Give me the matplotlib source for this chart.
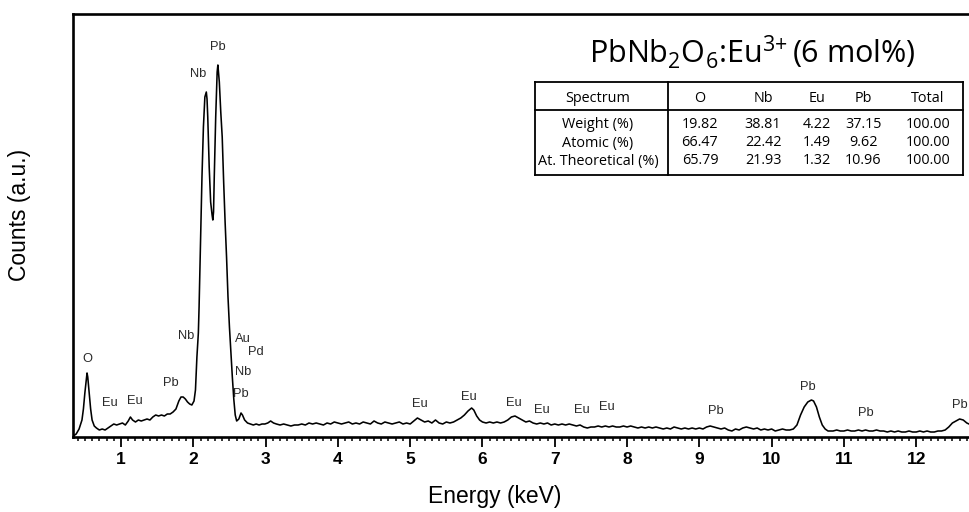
import matplotlib
matplotlib.use("Agg")
import matplotlib.pyplot as plt
from matplotlib.ticker import MultipleLocator
from matplotlib.lines import Line2D

# ---------------- data ----------------
energy_kev = [
    0.34, 0.38, 0.42, 0.46, 0.48, 0.50, 0.52, 0.53, 0.54, 0.56, 0.58, 0.60, 0.63, 0.66,
    0.70, 0.74, 0.78, 0.82, 0.86, 0.90, 0.94, 0.98, 1.02, 1.06, 1.10, 1.13, 1.16, 1.20,
    1.24, 1.28, 1.32, 1.36, 1.40, 1.44, 1.48, 1.52, 1.56, 1.60, 1.64, 1.68, 1.72, 1.76,
    1.80, 1.83, 1.86, 1.89, 1.92, 1.95, 1.98, 2.01, 2.03,
    2.05, 2.07, 2.08, 2.10, 2.12, 2.14, 2.16, 2.18, 2.19, 2.20, 2.22, 2.24, 2.26, 2.27,
    2.28, 2.29, 2.31, 2.33, 2.34, 2.36, 2.38, 2.40, 2.42, 2.44, 2.46, 2.48, 2.50, 2.52,
    2.54, 2.56, 2.58, 2.60, 2.63, 2.66, 2.68, 2.71, 2.75, 2.79, 2.83, 2.87, 2.91, 2.95,
    2.99, 3.03, 3.07, 3.11, 3.15,
    3.20, 3.25, 3.30, 3.35, 3.40, 3.45, 3.50, 3.55, 3.60, 3.65, 3.70, 3.75, 3.80, 3.85,
    3.90, 3.95, 4.00, 4.05, 4.10, 4.15, 4.20, 4.25, 4.30, 4.35, 4.40, 4.45, 4.50, 4.55,
    4.60, 4.65, 4.70, 4.75, 4.80, 4.85, 4.90, 4.95, 5.00, 5.05, 5.10, 5.15, 5.20, 5.25,
    5.30, 5.35, 5.40, 5.45, 5.50, 5.55, 5.60, 5.65, 5.70, 5.75, 5.80, 5.85, 5.88, 5.92,
    5.96, 6.00, 6.05, 6.10, 6.15, 6.20, 6.25, 6.30, 6.35, 6.40, 6.45, 6.50, 6.55, 6.60,
    6.65, 6.70, 6.75, 6.80, 6.85, 6.90, 6.95, 7.00, 7.05, 7.10, 7.15, 7.20, 7.25, 7.30,
    7.35, 7.40, 7.45, 7.50, 7.55, 7.60, 7.65, 7.70, 7.75, 7.80, 7.85, 7.90, 7.95, 8.00,
    8.05, 8.10, 8.15, 8.20, 8.25, 8.30, 8.35, 8.40, 8.45, 8.50, 8.55, 8.60, 8.65, 8.70,
    8.75, 8.80, 8.85, 8.90, 8.95, 9.00, 9.05, 9.10, 9.15, 9.20, 9.25, 9.30, 9.35, 9.40,
    9.45, 9.50, 9.55, 9.60, 9.65, 9.70, 9.75, 9.80, 9.85, 9.90, 9.95, 10.00, 10.05, 10.10,
    10.15, 10.20, 10.25, 10.30, 10.35, 10.40, 10.45, 10.50, 10.55, 10.58, 10.62, 10.66,
    10.70, 10.74, 10.78, 10.85, 10.90, 10.95, 11.00, 11.05, 11.10, 11.15, 11.20, 11.25,
    11.30, 11.35, 11.40, 11.45, 11.50, 11.55, 11.60, 11.65, 11.70, 11.75, 11.80, 11.85,
    11.90, 11.95, 12.00, 12.05, 12.10, 12.15, 12.20, 12.25, 12.30, 12.35, 12.40, 12.45,
    12.50, 12.55, 12.60, 12.65, 12.70, 12.73,
]
counts = [
    1, 3, 8, 17, 28, 44, 58, 64, 60, 44, 28, 17, 11, 9,
    7, 8, 7, 9, 11, 13, 12, 13, 14, 12, 16, 20, 17, 15,
    17, 16, 17, 18, 17, 20, 22, 21, 22, 21, 23, 23, 25, 28,
    36, 40, 40, 38, 35, 33, 32, 36, 47,
    80, 104, 130, 197, 260, 310, 340, 345, 338, 320, 270, 235, 222, 217,
    225, 260, 320, 365, 372, 355, 325, 300, 255, 215, 180, 140, 110, 85,
    60, 38, 22, 16, 18, 24, 22, 17, 14, 13, 12, 13, 12, 13,
    13, 14, 16, 14, 13,
    12, 13, 12, 11, 12, 12, 13, 12, 14, 13, 14, 13, 12, 14,
    13, 15, 14, 13, 14, 15, 13, 14, 13, 15, 14, 13, 16, 14,
    13, 15, 14, 13, 14, 15, 13, 14, 13, 16, 19, 17, 15, 16,
    14, 17, 14, 13, 15, 14, 15, 17, 19, 22, 26, 29, 27, 21,
    17, 15, 14, 15, 14, 15, 14, 15, 17, 20, 21, 19, 17, 15,
    16, 14, 13, 14, 13, 14, 12, 13, 12, 13, 12, 13, 12, 11,
    12, 10, 9, 10, 10, 11, 10, 11, 10, 11, 10, 10, 11, 10,
    11, 10, 9, 10, 9, 10, 9, 10, 9, 8, 9, 8, 10, 9,
    8, 9, 8, 9, 8, 9, 8, 10, 11, 10, 9, 8, 9, 7,
    6, 8, 7, 9, 10, 9, 8, 9, 7, 8, 7, 8, 6, 7,
    8, 7, 7, 8, 12, 22, 30, 35, 37, 36, 30, 20,
    12, 8, 6, 6, 7, 6, 6, 7, 6, 6, 7, 6,
    7, 6, 6, 7, 6, 6, 5, 6, 5, 6, 5, 5,
    6, 5, 5, 6, 5, 6, 5, 5, 6, 6, 7, 10,
    14, 16, 18, 17, 14, 13,
]

peak_labels = ["O", "Eu", "Eu", "Pb", "Nb", "Nb", "Pb", "Au", "Pd", "Nb", "Pb",
               "Eu", "Eu", "Eu", "Eu", "Eu", "Eu", "Pb", "Pb", "Pb", "Pb"]
peak_label_x = [0.530, 0.848, 1.194, 1.692, 1.900, 2.066, 2.343, 2.689, 2.868, 2.689, 2.661,
                5.137, 5.816, 6.439, 6.826, 7.380, 7.726, 9.234, 10.507, 11.309, 12.596]
peak_label_y = [78, 34, 36, 54, 101, 363, 390, 98, 85, 65, 43,
                33, 40, 34, 27, 27, 30, 26, 50, 24, 32]

xticks = list(range(1, 13))

table_header = ["Spectrum", "O", "Nb", "Eu", "Pb", "Total"]
table_rows = ["Weight (%)", "Atomic (%)", "At. Theoretical (%)"]
table_values = [
    ["19.82", "38.81", "4.22", "37.15", "100.00"],
    ["66.47", "22.42", "1.49", "9.62", "100.00"],
    ["65.79", "21.93", "1.32", "10.96", "100.00"],
]

# ---------------- figure ----------------
W, H = 969, 512
fig = plt.figure(figsize=(W / 100, H / 100), dpi=100)
ax = fig.add_axes([73 / W, (H - 437) / H, 1 - 73 / W, (437 - 14) / H])

ax.plot(energy_kev, counts, color="black", lw=1.15)
ax.set_xlim(0.336, 12.73)
ax.set_ylim(0, 423)

for s in ["left", "top", "bottom"]:
    ax.spines[s].set_linewidth(1.9)
ax.spines["right"].set_visible(False)

ax.set_yticks([])
ax.set_xticks(xticks)
ax.xaxis.set_minor_locator(MultipleLocator(0.1))
ax.tick_params(axis="x", which="major", direction="out", length=7, width=1.3, pad=4)
ax.tick_params(axis="x", which="minor", direction="out", length=3.2, width=1.1)
for lab in ax.get_xticklabels():
    lab.set_fontfamily("Liberation Sans")
    lab.set_fontweight("bold")
    lab.set_fontsize(12.5)

fig.text(495 / W, 1 - 497 / H, "Energy (keV)", ha="center", va="center",
         fontsize=16.5, family="Liberation Sans")
fig.text(20 / W, 1 - 215 / H, "Counts (a.u.)", ha="center", va="center",
         rotation=90, fontsize=16.5, family="Liberation Sans")

for t, x, y in zip(peak_labels, peak_label_x, peak_label_y):
    ax.text(x, y, t, ha="center", va="center", fontsize=9.3, color="#2a2a2a",
            family="Liberation Sans")

# ---------------- title ----------------
plt.rcParams["mathtext.fontset"] = "custom"
plt.rcParams["mathtext.rm"] = "Open Sans"
plt.rcParams["mathtext.it"] = "Open Sans"
fig.text(752 / W, 1 - 63 / H, r"PbNb$_2$O$_6$:Eu$^{3{+}}\,$(6 mol%)", ha="center",
         va="baseline", fontsize=22, family="Open Sans")

# ---------------- table ----------------
def fx(px):
    return px / W

def fy(py):
    return 1 - py / H

tl, tr, tt, tb = 535, 963, 82, 175
hline = 110
vline = 668
lw = 1.3
for (x0, y0, x1, y1) in [(tl, tt, tr, tt), (tl, tb, tr, tb), (tl, tt, tl, tb), (tr, tt, tr, tb),
                         (tl, hline, tr, hline), (vline, tt, vline, tb)]:
    fig.add_artist(Line2D([fx(x0), fx(x1)], [fy(y0), fy(y1)], color="black", lw=lw))

col_x = [598, 700, 763, 817, 863, 928]
row_y = [125, 143, 161]
tfs = 10.4
for cx, h in zip(col_x, table_header):
    fig.text(fx(cx), fy(98), h, ha="center", va="center", fontsize=tfs, family="Open Sans")
for ry, rname, vals in zip(row_y, table_rows, table_values):
    fig.text(fx(col_x[0]), fy(ry), rname, ha="center", va="center", fontsize=tfs,
             family="Open Sans")
    for cx, v in zip(col_x[1:], vals):
        fig.text(fx(cx), fy(ry), v, ha="center", va="center", fontsize=tfs,
                 family="Open Sans")

fig.savefig("out.png", dpi=100)
